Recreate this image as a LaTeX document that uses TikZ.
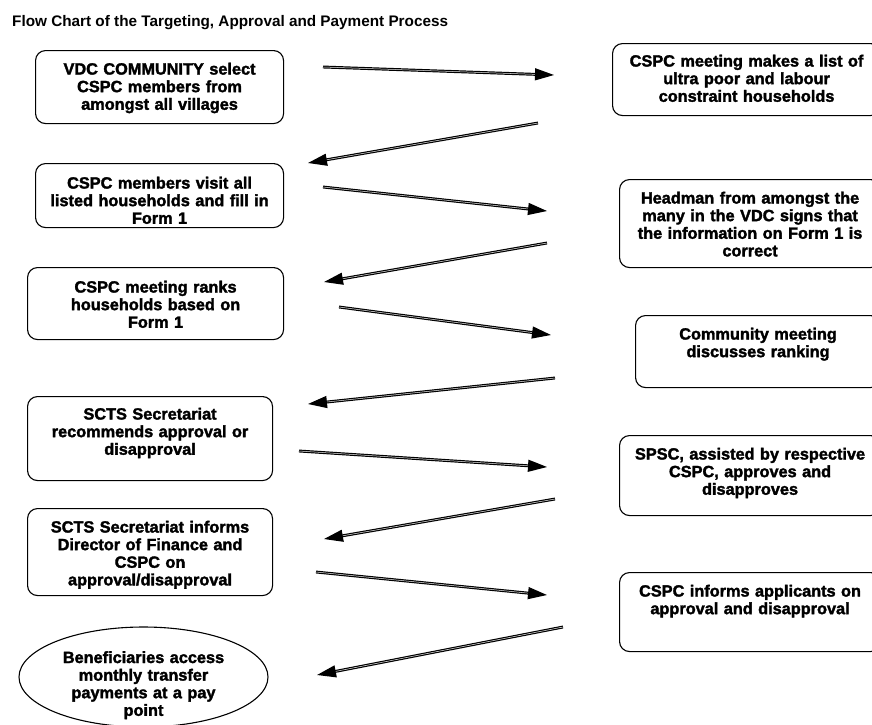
\documentclass[tikz,border=0pt]{standalone}
\usepackage{fontspec}
\setmainfont{Liberation Sans}
\newfontfamily\heavyfont{Liberation Sans Bold}[FakeBold=2]
\usetikzlibrary{shapes.geometric,arrows.meta,positioning}

\begin{document}
\begin{tikzpicture}[
    x=1pt, y=-1pt,
    stage/.style={draw, line width=1.1pt, rounded corners=10pt, align=center, inner xsep=0pt, inner ysep=0pt, anchor=north west, font=\heavyfont\fontsize{16.3}{17.6}\selectfont},
    finish/.style={draw, line width=1.1pt, ellipse, align=center, inner sep=0pt, font=\heavyfont\fontsize{16.3}{17.6}\selectfont},
    flow/.style={double=gray!15, double distance=0.5pt, line width=1.2pt, -{Triangle[length=19pt, width=12pt]}}
]
    \useasboundingbox (0,0) rectangle (872,724);

    % Title
    \node[anchor=base west, inner sep=0pt, font=\bfseries\fontsize{15.3}{18}\selectfont] (title) at (12,26) {Flow Chart of the Targeting, Approval and Payment Process};

    % Left column
    \node[stage, text width=248pt, text height=24pt, text depth=49pt] (vdc) at (35,50) {VDC COMMUNITY select\\CSPC members from\\amongst all villages};
    \node[stage, text width=248pt, text height=25pt, text depth=39pt] (visit) at (35,163) {CSPC members visit all\\listed households and fill in\\Form 1};
    \node[stage, text width=256pt, text height=25pt, text depth=47pt] (ranks) at (27,267) {CSPC meeting ranks\\households based on\\Form 1};
    \node[stage, text width=245pt, text height=23pt, text depth=61pt] (recommend) at (27,396) {SCTS Secretariat\\recommends approval or\\disapproval};
    \node[stage, text width=245pt, text height=24pt, text depth=63pt] (inform) at (27,508) {SCTS Secretariat informs\\Director of Finance and\\CSPC on\\approval/disapproval};
    \node[finish, text width=170pt, text height=20pt, text depth=48pt, minimum width=249pt, minimum height=100pt] (payment) at (143.5,677) {Beneficiaries access\\monthly transfer\\payments at a pay\\point};

    % Right column
    \node[stage, text width=268pt, text height=23pt, text depth=49pt] (list) at (612,43) {CSPC meeting makes a list of\\ultra poor and labour\\constraint households};
    \node[stage, text width=261pt, text height=24pt, text depth=64pt] (headman) at (619,179) {Headman from amongst the\\many in the VDC signs that\\the information on Form 1 is\\correct};
    \node[stage, text width=245pt, text height=24pt, text depth=48pt] (community) at (635,315) {Community meeting\\discusses ranking};
    \node[stage, text width=261pt, text height=24pt, text depth=56pt] (spsc) at (619,435) {SPSC, assisted by respective\\CSPC, approves and\\disapproves};
    \node[stage, text width=261pt, text height=24pt, text depth=55pt] (applicants) at (619,572) {CSPC informs applicants on\\approval and disapproval};

    % Arrow ends
    \coordinate (vdc-out) at (323,67);
    \coordinate (list-in) at (554,75);
    \coordinate (list-out) at (538,123);
    \coordinate (visit-in) at (308,163);
    \coordinate (visit-out) at (323,187);
    \coordinate (headman-in) at (547,211);
    \coordinate (headman-out) at (547,243);
    \coordinate (ranks-in) at (324,282);
    \coordinate (ranks-out) at (339,307);
    \coordinate (community-in) at (551,335);
    \coordinate (community-out) at (555,378);
    \coordinate (recommend-in) at (308,404);
    \coordinate (recommend-out) at (299,451);
    \coordinate (spsc-in) at (547,467);
    \coordinate (spsc-out) at (555,499);
    \coordinate (inform-in) at (324,539);
    \coordinate (inform-out) at (316,572);
    \coordinate (applicants-in) at (547,595);
    \coordinate (applicants-out) at (563,627);
    \coordinate (payment-in) at (317,675);

    % Arrows
    \draw[flow] (vdc-out) -- (list-in);
    \draw[flow] (list-out) -- (visit-in);
    \draw[flow] (visit-out) -- (headman-in);
    \draw[flow] (headman-out) -- (ranks-in);
    \draw[flow] (ranks-out) -- (community-in);
    \draw[flow] (community-out) -- (recommend-in);
    \draw[flow] (recommend-out) -- (spsc-in);
    \draw[flow] (spsc-out) -- (inform-in);
    \draw[flow] (inform-out) -- (applicants-in);
    \draw[flow] (applicants-out) -- (payment-in);

\end{tikzpicture}
\end{document}
